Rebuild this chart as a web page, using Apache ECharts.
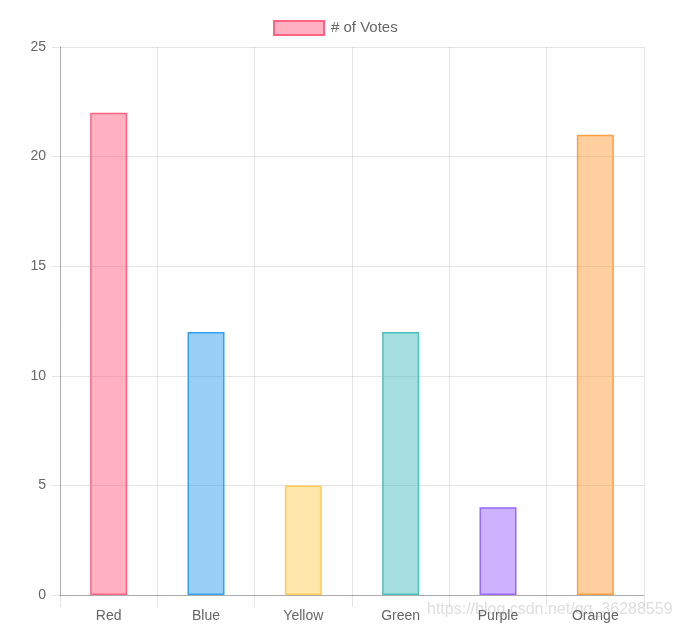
<!DOCTYPE html>
<html>
<head>
<meta charset="utf-8">
<script src="https://cdn.jsdelivr.net/npm/echarts@6/dist/echarts.min.js"></script>
<style>
  html, body { margin: 0; padding: 0; background: #fff; }
  #chart { width: 679px; height: 628px; }
</style>
</head>
<body>
<div id="chart"></div>
<script>
var categories = ['Red', 'Blue', 'Yellow', 'Green', 'Purple', 'Orange']
var votes = [22, 12, 5, 12, 4, 21]
var fills = ['rgba(255,99,132,0.5)', 'rgba(54,162,235,0.5)', 'rgba(255,206,86,0.5)',
  'rgba(75,192,192,0.5)', 'rgba(153,102,255,0.5)', 'rgba(255,159,64,0.5)']
var borders = ['rgb(255,99,132)', 'rgb(54,162,235)', 'rgb(255,206,86)',
  'rgb(75,192,192)', 'rgb(153,102,255)', 'rgb(255,159,64)']

var font = "'Liberation Sans', Arial, Helvetica, sans-serif"
var gridColor = 'rgba(0,0,0,0.1)'
var axisColor = 'rgba(0,0,0,0.25)'

var chart = echarts.init(document.getElementById('chart'))

chart.setOption({
  animation: false,
  textStyle: { fontFamily: font },
  legend: {
    top: 20,
    left: 273,
    padding: 0,
    itemWidth: 50,
    itemHeight: 14,
    icon: 'rect',
    textStyle: { color: '#666', fontSize: 15, fontFamily: font, padding: [0, 0, 0, 2] },
    data: ['# of Votes']
  },
  grid: {
    left: 60,
    right: 35,
    top: 47,
    bottom: 33,
    containLabel: false
  },
  xAxis: {
    type: 'category',
    data: categories,
    boundaryGap: true,
    axisLine: { show: true, lineStyle: { color: axisColor, width: 1 } },
    axisTick: { show: true, length: 12, alignWithLabel: false, lineStyle: { color: gridColor } },
    axisLabel: { color: '#666', fontSize: 14, margin: 14, fontFamily: font },
    splitLine: { show: true, lineStyle: { color: gridColor } }
  },
  yAxis: {
    type: 'value',
    min: 0,
    max: 25,
    interval: 5,
    axisLine: { show: true, lineStyle: { color: axisColor, width: 1 } },
    axisTick: { show: true, length: 8, lineStyle: { color: gridColor } },
    axisLabel: { color: '#666', fontSize: 14, margin: 14, fontFamily: font },
    splitLine: { show: true, lineStyle: { color: gridColor } }
  },
  series: [{
    name: '# of Votes',
    type: 'bar',
    barWidth: 37,
    itemStyle: {
      color: fills[0],
      borderColor: borders[0],
      borderWidth: 1.5
    },
    data: votes.map(function(v, i) {
      return {
        value: v,
        itemStyle: { color: fills[i], borderColor: borders[i], borderWidth: 1.5 }
      }
    })
  }],
  graphic: [{
    type: 'text',
    left: 427,
    top: 602,
    silent: true,
    style: {
      text: 'https://blog.csdn.net/qq_36288559',
      font: '16px ' + font,
      fill: 'rgba(190,190,190,0.5)'
    }
  }]
})
</script>
</body>
</html>
